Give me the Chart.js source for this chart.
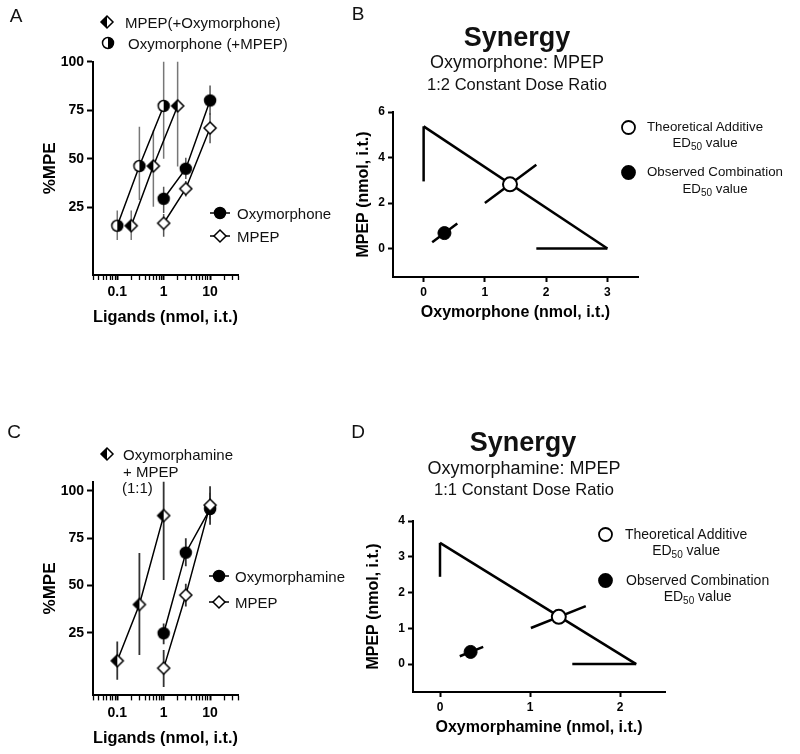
<!DOCTYPE html>
<html>
<head>
<meta charset="utf-8">
<script src="https://cdn.jsdelivr.net/npm/chart.js@4.4.0/dist/chart.umd.min.js"></script>
<style>
body { margin: 0; background: #fff; font-family: "Liberation Sans", Arial, Helvetica, sans-serif; color: #111; }
#fig { position: relative; width: 800px; height: 754px; overflow: hidden; background: #fff; }
canvas.plot { position: absolute; }
.c { position: absolute; white-space: nowrap; transform: translate(-50%, -50%); }
.l { position: absolute; white-space: nowrap; transform: translateY(-50%); font-size: 15px; }
.blk { position: absolute; white-space: nowrap; text-align: center; line-height: 16.5px; }
.blk sub { font-size: 10px; line-height: 0; vertical-align: -3px; }
.sym { position: absolute; }
</style>
</head>
<body>
<div id="fig">
  <canvas id="chartA" class="plot" width="270" height="340" style="left:0;top:0"></canvas>
  <canvas id="chartB" class="plot" width="530" height="340" style="left:270px;top:0"></canvas>
  <canvas id="chartC" class="plot" width="270" height="374" style="left:0;top:380px"></canvas>
  <canvas id="chartD" class="plot" width="530" height="374" style="left:270px;top:380px"></canvas>

  <div class="c" style="left:16px;top:16px;font-size:19px">A</div>
  <div class="c" style="left:358px;top:14px;font-size:19px">B</div>
  <div class="c" style="left:14px;top:432px;font-size:19px">C</div>
  <div class="c" style="left:358px;top:432px;font-size:19px">D</div>

  <div class="c" style="left:517px;top:37px;font-size:27px;font-weight:bold">Synergy</div>
  <div class="c" style="left:517px;top:62px;font-size:18px">Oxymorphone: MPEP</div>
  <div class="c" style="left:517px;top:84px;font-size:16.5px">1:2 Constant Dose Ratio</div>

  <div class="c" style="left:523px;top:442px;font-size:27px;font-weight:bold">Synergy</div>
  <div class="c" style="left:524px;top:468px;font-size:18px">Oxymorphamine: MPEP</div>
  <div class="c" style="left:524px;top:488.5px;font-size:16.5px">1:1 Constant Dose Ratio</div>

  <div class="l" style="left:125px;top:22px">MPEP(+Oxymorphone)</div>
  <div class="l" style="left:128px;top:42.5px">Oxymorphone (+MPEP)</div>
  <div class="l" style="left:237px;top:213px">Oxymorphone</div>
  <div class="l" style="left:237px;top:236px">MPEP</div>

  <div class="l" style="left:123px;top:453.5px">Oxymorphamine</div>
  <div class="l" style="left:123px;top:470.5px">+ MPEP</div>
  <div class="l" style="left:122px;top:487px">(1:1)</div>
  <div class="l" style="left:235px;top:576px">Oxymorphamine</div>
  <div class="l" style="left:235px;top:602px">MPEP</div>

  <div class="blk" style="left:647px;top:118.7px;font-size:13.3px">Theoretical Additive<br>ED<sub>50</sub> value</div>
  <div class="blk" style="left:647px;top:164.2px;font-size:13.3px">Observed Combination<br>ED<sub>50</sub> value</div>
  <div class="blk" style="left:625px;top:525.7px;font-size:14px">Theoretical Additive<br>ED<sub>50</sub> value</div>
  <div class="blk" style="left:626px;top:571.7px;font-size:14px">Observed Combination<br>ED<sub>50</sub> value</div>
</div>

<script>
var FONT = "'Liberation Sans', Arial, Helvetica, sans-serif";

// ---- A: dose response, oxymorphone / MPEP ----
var doseA_oxyMix = [0.1, 0.3, 1];          // Oxymorphone (+MPEP)
var pmpeA_oxyMix = [15.4, 46.2, 77.2];
var loA_oxyMix = [8.1, 28.7, 50];
var hiA_oxyMix = [23.2, 66.5, 101];

var doseA_mpepMix = [0.2, 0.6, 2];         // MPEP(+Oxymorphone)
var pmpeA_mpepMix = [15.4, 46.2, 77.2];
var loA_mpepMix = [8.1, 25.2, 46];
var hiA_mpepMix = [23.2, 64.7, 101];

var doseA_oxy = [1, 3, 10];                // Oxymorphone
var pmpeA_oxy = [29.3, 44.8, 80];
var loA_oxy = [22, 39.5, 72.5];
var hiA_oxy = [35.5, 50.5, 87.7];

var doseA_mpep = [1, 3, 10];               // MPEP
var pmpeA_mpep = [16.7, 34.5, 65.8];
var loA_mpep = [9.7, 30.5, 57.9];
var hiA_mpep = [21.5, 38.5, 73.5];

// ---- C: dose response, oxymorphamine / MPEP ----
var doseC_mix = [0.1, 0.3, 1];             // Oxymorphamine + MPEP (1:1)
var pmpeC_mix = [10.3, 40, 87];
var loC_mix = [0.3, 13.3, 53];
var hiC_mix = [20.5, 67.2, 105];

var doseC_oxy = [1, 3, 10];                // Oxymorphamine
var pmpeC_oxy = [24.8, 67.4, 90.5];
var loC_oxy = [19, 60.2, 82.2];
var hiC_oxy = [30, 75, 102.5];

var doseC_mpep = [1, 3, 10];               // MPEP
var pmpeC_mpep = [6.4, 45, 92.5];
var loC_mpep = [-3.5, 39, 85];
var hiC_mpep = [16, 51, 99];

var logTickLabels = [0.1, 1, 10];
var pmpeTicks = [25, 50, 75, 100];

// ---- B: isobologram 1:2 ----
var xAloneB = [1.84, 3.0];        // oxymorphone alone: lower limit, ED50
var yAloneB = [2.95, 5.37];       // MPEP alone: lower limit, ED50
var theoB_x = [1.0, 1.41, 1.84];  // low, ED50, high
var theoB_y = [2.0, 2.82, 3.68];
var obsB_x = [0.14, 0.34, 0.55];
var obsB_y = [0.28, 0.68, 1.10];
var xTicksB = [0, 1, 2, 3];
var yTicksB = [0, 2, 4, 6];

// ---- D: isobologram 1:1 ----
var xAloneD = [1.47, 2.18];
var yAloneD = [2.44, 3.39];
var theoD_x = [1.01, 1.32, 1.62];
var theoD_y = [1.01, 1.32, 1.62];
var obsD_x = [0.22, 0.34, 0.48];
var obsD_y = [0.22, 0.34, 0.48];
var xTicksD = [0, 1, 2];
var yTicksD = [0, 1, 2, 3, 4];

Chart.defaults.font.family = FONT;
Chart.defaults.color = '#000';

function makeSymbol(shape, fill, stub) {
  var w = stub ? 20 : 16, h = 16, cx = w / 2, cy = 8;
  var c = document.createElement('canvas');
  c.width = w; c.height = h;
  var g = c.getContext('2d');
  g.strokeStyle = '#000'; g.lineWidth = 1.5;
  if (stub) { g.beginPath(); g.moveTo(0, cy); g.lineTo(w, cy); g.stroke(); }
  g.beginPath();
  if (shape == 'circle') g.arc(cx, cy, 5.5, 0, 2 * Math.PI);
  else { g.moveTo(cx, cy - 6); g.lineTo(cx + 6, cy); g.lineTo(cx, cy + 6); g.lineTo(cx - 6, cy); g.closePath(); }
  g.fillStyle = fill == 'full' ? '#000' : '#fff';
  g.fill();
  if (fill == 'half') {
    g.save(); g.clip(); g.fillStyle = '#000';
    if (shape == 'circle') g.fillRect(cx, 0, w, h); else g.fillRect(0, 0, cx, h);
    g.restore();
  }
  g.stroke();
  return c;
}

function placeSymbol(c, x, y) {
  c.className = 'sym';
  c.style.left = (x - c.width / 2) + 'px';
  c.style.top = (y - c.height / 2) + 'px';
  document.getElementById('fig').appendChild(c);
}

function placeDot(x, y, r, filled) {
  var c = document.createElement('canvas');
  c.width = 2 * r + 4; c.height = 2 * r + 4;
  var g = c.getContext('2d');
  g.beginPath(); g.arc(r + 2, r + 2, r, 0, 2 * Math.PI);
  g.fillStyle = filled ? '#000' : '#fff'; g.fill();
  g.lineWidth = 1.8; g.strokeStyle = '#000'; g.stroke();
  placeSymbol(c, x, y);
}

// legend symbols
placeSymbol(makeSymbol('diamond', 'half'), 107, 22);
placeSymbol(makeSymbol('circle', 'half'), 108, 42.5);
placeSymbol(makeSymbol('circle', 'full', true), 220, 213);
placeSymbol(makeSymbol('diamond', 'open', true), 220, 236);
placeSymbol(makeSymbol('diamond', 'half'), 107, 453.5);
placeSymbol(makeSymbol('circle', 'full', true), 219, 576);
placeSymbol(makeSymbol('diamond', 'open', true), 219, 602);
placeDot(628, 127, 6.5, false);
placeDot(628, 172.5, 6.5, true);
placeDot(605, 534, 6.5, false);
placeDot(605, 580, 6.5, true);

function fixWidth(w) { return function(scale) { scale.width = w; }; }
function fixHeight(h) { return function(scale) { scale.height = h; }; }
function setTicks(list) { return function(scale) { scale.ticks = list.map(function(v) { return {value: v}; }); }; }

function isMajor(v) {
  var l = Math.log10(v);
  return Math.abs(l - Math.round(l)) < 1e-6;
}

function logTicks(scale) {
  var t = [];
  for (var e = -2; e <= 1; e++) {
    for (var m = 1; m <= 9; m++) {
      var v = m * Math.pow(10, e);
      if (v >= scale.min * 0.999 && v <= scale.max * 1.001) t.push({value: v});
    }
  }
  scale.ticks = t;
}

function pts(xs, ys) {
  return xs.map(function(x, i) { return {x: x, y: ys[i]}; });
}

function lineSet(xs, ys, width) {
  return {data: pts(xs, ys), showLine: true, borderColor: '#000', borderWidth: width,
          pointRadius: 0, order: 5};
}

function pointSet(xs, ys, sym, order) {
  return {data: pts(xs, ys), showLine: false, pointStyle: sym, pointRadius: 6, order: order};
}

function errorSets(xs, lo, hi, color, width) {
  return xs.map(function(x, i) {
    return {data: [{x: x, y: lo[i]}, {x: x, y: hi[i]}], showLine: true, borderColor: color,
            borderWidth: width, pointRadius: 0, order: 10};
  });
}

function doseChart(id, pad, yW, xH, yMin, yMax, yTitlePad, xTitlePad, datasets) {
  return new Chart(document.getElementById(id), {
    type: 'scatter',
    data: {datasets: datasets},
    options: {
      responsive: false, animation: false,
      layout: {padding: pad},
      plugins: {legend: {display: false}, tooltip: {enabled: false}},
      scales: {
        x: {
          type: 'logarithmic', min: 0.03, max: 40, bounds: 'data',
          afterBuildTicks: logTicks, afterFit: fixHeight(xH),
          border: {display: true, color: '#000', width: 2},
          grid: {display: true, drawOnChartArea: false, drawTicks: true, tickLength: 5, color: '#000',
                 tickWidth: function(ctx) { return ctx.tick && isMajor(ctx.tick.value) ? 2 : 1.3; }},
          ticks: {
            autoSkip: false, maxRotation: 0, padding: 4, color: '#000',
            font: {size: 14, weight: 'bold'},
            callback: function(v) {
              for (var i = 0; i < logTickLabels.length; i++) {
                if (Math.abs(v - logTickLabels[i]) < logTickLabels[i] * 1e-6) return String(logTickLabels[i]);
              }
              return '';
            }
          },
          title: {display: true, text: 'Ligands (nmol, i.t.)', color: '#000',
                  font: {size: 17, weight: 'bold'}, padding: {top: 0, bottom: xTitlePad}}
        },
        y: {
          min: yMin, max: yMax, bounds: 'data',
          afterBuildTicks: setTicks(pmpeTicks), afterFit: fixWidth(yW),
          border: {display: true, color: '#000', width: 2},
          grid: {display: true, drawOnChartArea: false, drawTicks: true, tickLength: 6, color: '#000', tickWidth: 2},
          ticks: {padding: 3, color: '#000', font: {size: 14, weight: 'bold'}},
          title: {display: true, text: '%MPE', color: '#000',
                  font: {size: 17, weight: 'bold'}, padding: {top: yTitlePad, bottom: 0}}
        }
      }
    }
  });
}

function isoChart(id, pad, yW, xH, xr, yr, xTicks, yTicks, xTitle, yTitlePad, xTitlePad, datasets) {
  return new Chart(document.getElementById(id), {
    type: 'scatter',
    data: {datasets: datasets},
    options: {
      responsive: false, animation: false,
      layout: {padding: pad},
      plugins: {legend: {display: false}, tooltip: {enabled: false}},
      scales: {
        x: {
          min: xr[0], max: xr[1], bounds: 'data',
          afterBuildTicks: setTicks(xTicks), afterFit: fixHeight(xH),
          border: {display: true, color: '#000', width: 2},
          grid: {display: true, drawOnChartArea: false, drawTicks: true, tickLength: 5, color: '#000', tickWidth: 2},
          ticks: {padding: 3, color: '#000', maxRotation: 0, font: {size: 12, weight: 'bold'}},
          title: {display: true, text: xTitle, color: '#000',
                  font: {size: 16, weight: 'bold'}, padding: {top: 0, bottom: xTitlePad}}
        },
        y: {
          min: yr[0], max: yr[1], bounds: 'data',
          afterBuildTicks: setTicks(yTicks), afterFit: fixWidth(yW),
          border: {display: true, color: '#000', width: 2},
          grid: {display: true, drawOnChartArea: false, drawTicks: true, tickLength: 5, color: '#000', tickWidth: 2},
          ticks: {padding: 3, color: '#000', font: {size: 12, weight: 'bold'}},
          title: {display: true, text: 'MPEP (nmol, i.t.)', color: '#000',
                  font: {size: 16, weight: 'bold'}, padding: {top: yTitlePad, bottom: 0}}
        }
      }
    }
  });
}

function isoSets(xAlone, yAlone, theoX, theoY, obsX, obsY) {
  return [
    {data: [{x: theoX[1], y: theoY[1]}], pointRadius: 7, pointBackgroundColor: '#fff',
     pointBorderColor: '#000', pointBorderWidth: 2, order: 0},
    {data: [{x: obsX[1], y: obsY[1]}], pointRadius: 6.5, pointBackgroundColor: '#000',
     pointBorderColor: '#000', pointBorderWidth: 1, order: 0},
    lineSet([0, xAlone[1]], [yAlone[1], 0], 2.5),
    lineSet([0, 0], [yAlone[0], yAlone[1]], 2.5),
    lineSet([xAlone[0], xAlone[1]], [0, 0], 2.5),
    lineSet([theoX[0], theoX[2]], [theoY[0], theoY[2]], 2.5),
    lineSet([obsX[0], obsX[2]], [obsY[0], obsY[2]], 2.5)
  ];
}

var halfDiamond = makeSymbol('diamond', 'half');
var halfCircle = makeSymbol('circle', 'half');
var fullCircle = makeSymbol('circle', 'full');
var openDiamond = makeSymbol('diamond', 'open');

var setsA = [].concat(
  errorSets(doseA_oxyMix, loA_oxyMix, hiA_oxyMix, '#777', 1.5),
  errorSets(doseA_mpepMix, loA_mpepMix, hiA_mpepMix, '#777', 1.5),
  errorSets(doseA_oxy, loA_oxy, hiA_oxy, '#555', 1.5),
  errorSets(doseA_mpep, loA_mpep, hiA_mpep, '#555', 1.5),
  [lineSet(doseA_oxyMix, pmpeA_oxyMix, 1.5), lineSet(doseA_mpepMix, pmpeA_mpepMix, 1.5),
   lineSet(doseA_oxy, pmpeA_oxy, 1.5), lineSet(doseA_mpep, pmpeA_mpep, 1.5),
   pointSet(doseA_oxyMix, pmpeA_oxyMix, halfCircle, 1), pointSet(doseA_mpepMix, pmpeA_mpepMix, halfDiamond, 0),
   pointSet(doseA_oxy, pmpeA_oxy, fullCircle, 1), pointSet(doseA_mpep, pmpeA_mpep, openDiamond, 0)]
);

var setsC = [].concat(
  errorSets(doseC_mix, loC_mix, hiC_mix, '#333', 1.8),
  errorSets(doseC_oxy, loC_oxy, hiC_oxy, '#333', 1.8),
  errorSets(doseC_mpep, loC_mpep, hiC_mpep, '#333', 1.8),
  [lineSet(doseC_mix, pmpeC_mix, 1.5), lineSet(doseC_oxy, pmpeC_oxy, 1.5), lineSet(doseC_mpep, pmpeC_mpep, 1.5),
   pointSet(doseC_mix, pmpeC_mix, halfDiamond, 0), pointSet(doseC_oxy, pmpeC_oxy, fullCircle, 1),
   pointSet(doseC_mpep, pmpeC_mpep, openDiamond, 0)]
);

doseChart('chartA', {left: 0, top: 61.7, right: 32, bottom: 0}, 93, 65, -10, 100, 40, 12.8, setsA);
doseChart('chartC', {left: 0, top: 101.5, right: 32, bottom: 0}, 93, 58.6, -8, 105, 40, 5.8, setsC);

isoChart('chartB', {left: 0, top: 112, right: 162, bottom: 0}, 123, 63, [-0.5, 3.5], [-1.25, 6],
         xTicksB, yTicksB, 'Oxymorphone (nmol, i.t.)', 84.4, 17.4,
         isoSets(xAloneB, yAloneB, theoB_x, theoB_y, obsB_x, obsB_y));
isoChart('chartD', {left: 0, top: 141, right: 135, bottom: 0}, 143, 62, [-0.3, 2.5], [-0.78, 4],
         xTicksD, yTicksD, 'Oxymorphamine (nmol, i.t.)', 94.4, 16.4,
         isoSets(xAloneD, yAloneD, theoD_x, theoD_y, obsD_x, obsD_y));
</script>
</body>
</html>
